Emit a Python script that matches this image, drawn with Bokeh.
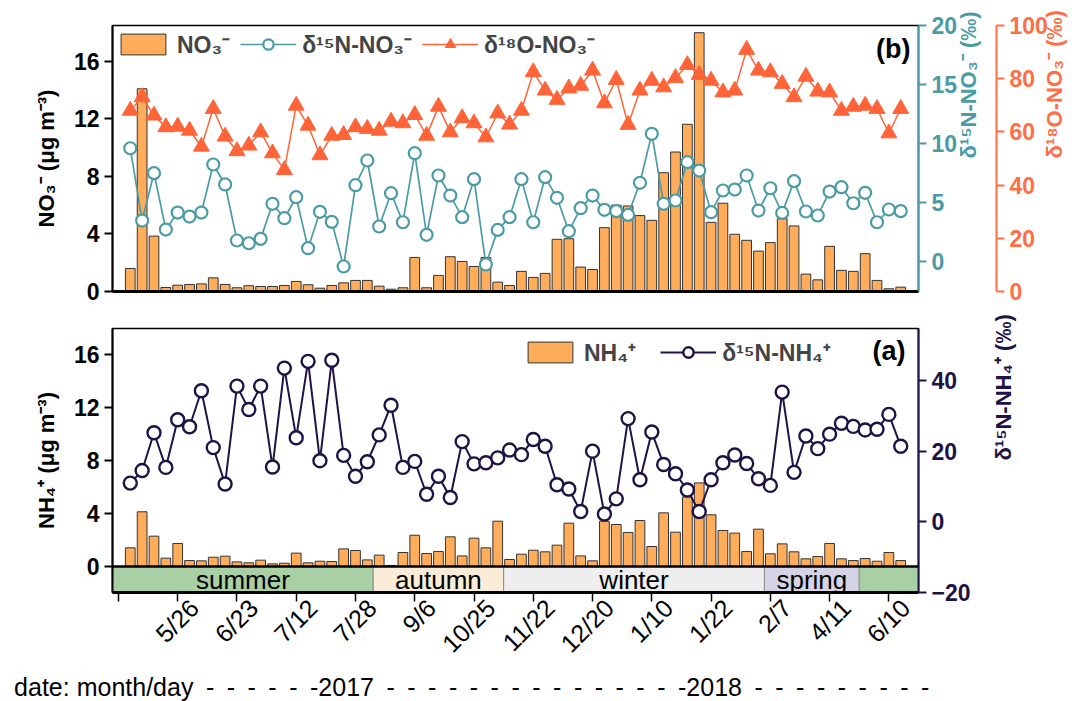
import math
from bokeh.plotting import figure
from bokeh.models import (Range1d, LinearAxis, FixedTicker, Legend, LegendItem, Label, Span)
from bokeh.layouts import column
from bokeh.embed import file_html
from bokeh.resources import INLINE
from bokeh.core.properties import value

# ---------------- data ----------------
no3 = [1.6, 14.1, 3.85, 0.28, 0.44, 0.49, 0.53, 0.95, 0.49, 0.26,
       0.40, 0.35, 0.35, 0.42, 0.70, 0.47, 0.23, 0.42, 0.60, 0.77,
       0.77, 0.37, 0.16, 0.26, 2.37, 0.26, 1.12, 2.42, 2.09, 1.74,
       2.37, 0.65, 0.42, 1.40, 0.98, 1.26, 3.63, 3.67, 1.70, 1.53,
       4.44, 6.0, 5.95, 5.28, 4.95, 8.26, 9.70, 11.63, 18.0, 4.81,
       6.14, 3.98, 3.56, 2.81, 3.40, 5.07, 4.56, 1.21, 0.81, 3.14,
       1.47, 1.40, 2.63, 0.77, 0.19, 0.30]
d15n_no3 = [9.6, 3.47, 7.49, 2.71, 4.15, 3.81, 4.15, 8.22, 6.53, 1.78,
            1.55, 1.92, 4.89, 3.67, 5.45, 1.13, 4.21, 3.36, -0.42, 6.47,
            8.56, 2.97, 5.79, 3.33, 9.18, 2.26, 7.29, 5.59, 3.76, 6.98,
            -0.25, 2.68, 3.76, 6.98, 3.33, 7.15, 5.40, 2.57, 4.52, 5.59,
            4.38, 4.27, 3.95, 6.67, 10.82, 4.89, 5.17, 8.42, 7.71, 4.18,
            6.02, 6.10, 7.29, 4.32, 6.21, 4.12, 6.81, 4.24, 3.90, 5.93,
            6.30, 4.94, 5.82, 3.33, 4.41, 4.27]
d18o_no3 = [68.0, 73.1, 66.2, 61.8, 62.0, 60.5, 54.5, 68.7, 58.3, 52.8,
            54.9, 59.9, 52.0, 45.7, 69.9, 62.4, 51.3, 58.6, 58.9, 61.8,
            61.2, 60.5, 63.9, 63.3, 66.4, 58.6, 69.5, 59.9, 65.2, 63.3,
            58.0, 67.0, 62.8, 68.0, 82.5, 75.6, 72.1, 76.4, 77.4, 83.1,
            70.8, 79.6, 62.7, 75.6, 79.3, 76.8, 80.3, 85.2, 81.5, 79.3,
            74.9, 75.6, 90.9, 83.1, 82.5, 78.1, 73.1, 80.8, 75.2, 74.9,
            68.0, 69.5, 69.9, 68.7, 59.5, 68.7]
nh4 = [1.41, 4.13, 2.29, 0.63, 1.74, 0.45, 0.43, 0.70, 0.78, 0.35,
       0.28, 0.48, 0.20, 0.25, 1.01, 0.28, 0.40, 0.38, 1.33, 1.21,
       0.50, 0.86, 0.08, 1.06, 2.36, 0.98, 1.13, 2.24, 0.80, 2.14,
       1.41, 3.42, 0.53, 0.93, 1.23, 1.11, 1.61, 3.27, 0.80, 0.43,
       3.42, 3.17, 2.57, 3.47, 1.51, 4.05, 2.59, 5.26, 6.31, 3.90,
       2.72, 2.52, 1.13, 2.82, 0.96, 1.71, 1.11, 0.58, 0.75, 1.74,
       0.58, 0.45, 0.60, 0.40, 1.06, 0.45]
d15n_nh4 = [10.95, 14.5, 25.2, 15.4, 28.9, 26.9, 37.1, 21.0, 10.7, 38.4,
            31.8, 38.4, 15.5, 43.5, 23.8, 45.4, 17.3, 45.7, 18.8, 12.9,
            17.0, 24.6, 33.0, 15.4, 17.1, 7.8, 12.9, 6.9, 22.7, 16.4,
            16.7, 18.1, 20.3, 19.0, 23.3, 21.4, 10.5, 9.3, 2.9, 20.0,
            2.2, 6.5, 29.2, 11.9, 25.4, 16.2, 13.6, 9.0, 2.9, 11.9,
            16.7, 18.9, 16.5, 12.2, 10.3, 36.7, 14.0, 24.3, 20.7, 24.8,
            27.9, 27.0, 26.0, 26.2, 30.4, 21.4]
tick_labels = ["5/26", "6/23", "7/12", "7/28", "9/6", "10/25", "11/22",
               "12/20", "1/10", "1/22", "2/7", "4/11", "6/10"]
season_names = ["summer", "autumn", "winter", "spring", ""]
season_first = [0, 21, 32, 54, 62]
season_last = [20, 31, 53, 61, 65]
season_colors = ["#A9CFA4", "#FBECD7", "#EEEEEE", "#D4D4E6", "#A9CFA4"]
year_labels = ["2017", "2018"]

# ---------------- styles ----------------
FONT = "Liberation Sans"
BAR = "#FFAD5A"
TEAL = "#4B9BA5"
ORANGE = "#FF6438"
ORANGE_AX = "#FF6E45"
NAVY = "#1E1246"

n = len(no3)
idx = list(range(n))
XR = (-1.5, n + 0.5)
step = 5
ticks = list(range(-1, n, step))
label_ticks = ticks[1:]
lab_off = 1.4


def style_axis(ax, color, size="23px"):
    ax.axis_line_color = color
    ax.major_tick_line_color = color
    ax.major_label_text_color = color
    ax.axis_label_text_color = color
    ax.major_label_text_font = FONT
    ax.axis_label_text_font = FONT
    ax.major_label_text_font_style = "bold"
    ax.axis_label_text_font_style = "bold"
    ax.major_label_text_font_size = size
    ax.axis_label_text_font_size = "22px"
    ax.minor_tick_line_color = None
    ax.axis_line_width = 2
    ax.major_tick_line_width = 2
    ax.major_tick_in = 0
    ax.major_tick_out = 8


def base_fig(yr, top_border, bottom_border, fh, xloc="below"):
    p = figure(frame_width=806, frame_height=fh,
               x_range=Range1d(*XR), y_range=yr, x_axis_location=xloc,
               output_backend="svg", toolbar_location=None,
               min_border_left=112, min_border_right=153,
               min_border_top=top_border, min_border_bottom=bottom_border)
    p.xgrid.visible = False
    p.ygrid.visible = False
    p.outline_line_color = "black"
    p.outline_line_width = 1.5
    p.background_fill_color = "white"
    p.border_fill_color = "white"
    return p


def style_legend(lg):
    lg.label_text_font = FONT
    lg.label_text_font_style = "bold"
    lg.label_text_font_size = "23px"
    lg.glyph_width = 56
    lg.glyph_height = 26
    lg.label_standoff = 6
    lg.spacing = 10
    lg.padding = 3
    lg.margin = 3
    lg.border_line_color = None
    lg.background_fill_alpha = 0


# ================= top panel (b) =================
p1 = base_fig(Range1d(0, 18.5), 25, 19, 266)
p1.extra_y_ranges = {"d15n": Range1d(-2.54, 20), "d18o": Range1d(0, 100)}

bars1 = p1.vbar(x=idx, top=no3, width=0.82, fill_color=BAR,
                line_color="#333333", line_width=1)
tl = p1.line(idx, d15n_no3, y_range_name="d15n", line_color=TEAL, line_width=1.7)
ts = p1.scatter(idx, d15n_no3, y_range_name="d15n", marker="circle", size=12,
                fill_color="white", line_color=TEAL, line_width=2.2)
ol = p1.line(idx, d18o_no3, y_range_name="d18o", line_color=ORANGE, line_width=1.5)
os_ = p1.scatter(idx, d18o_no3, y_range_name="d18o", marker="triangle", size=16,
                 fill_color=ORANGE, line_color=ORANGE, line_width=1)

ax = p1.yaxis[0]
style_axis(ax, "black")
ax.ticker = FixedTicker(ticks=[0, 4, 8, 12, 16])
ax.axis_label = "NO\u2083\u207b (\u03bcg m\u207b\u00b3)"
ax.axis_label_standoff = 12

xa = p1.xaxis[0]
xa.ticker = FixedTicker(ticks=[])
xa.axis_line_width = 3
xa.major_tick_out = 0
xa.minor_tick_out = 0

ax_t = LinearAxis(y_range_name="d15n", ticker=FixedTicker(ticks=[0, 5, 10, 15, 20]),
                  axis_label="\u03b4\u00b9\u2075N-NO\u2083\u207b (\u2030)")
style_axis(ax_t, TEAL)
ax_t.axis_label_orientation = math.pi / 2
ax_t.axis_label_standoff = 8
p1.add_layout(ax_t, "right")

ax_o = LinearAxis(y_range_name="d18o", ticker=FixedTicker(ticks=[0, 20, 40, 60, 80, 100]),
                  axis_label="\u03b4\u00b9\u2078O-NO\u2083\u207b (\u2030)")
style_axis(ax_o, ORANGE_AX)
ax_o.axis_label_orientation = math.pi / 2
ax_o.axis_label_standoff = 4
p1.add_layout(ax_o, "right")

leg1 = Legend(items=[LegendItem(label="NO\u2083\u207b", renderers=[bars1]),
                     LegendItem(label="\u03b4\u00b9\u2075N-NO\u2083\u207b", renderers=[tl, ts]),
                     LegendItem(label="\u03b4\u00b9\u2078O-NO\u2083\u207b", renderers=[ol, os_])],
              location="top_left", orientation="horizontal")
style_legend(leg1)
p1.add_layout(leg1)

p1.add_layout(Label(x=798, y=243, x_units="screen", y_units="screen", text="(b)",
                    text_align="right", text_baseline="middle", text_font=FONT,
                    text_font_style="bold", text_font_size="27px", text_color="black"))

# ================= bottom panel (a) =================
p2 = base_fig(Range1d(-1.96, 17.96), 18, 109, 264, xloc=None)
p2.extra_y_ranges = {"d15nh": Range1d(-20, 54.7)}
p2.extra_x_ranges = {"lab": Range1d(XR[0] - lab_off, XR[1] - lab_off)}

lefts = [XR[0] if i == 0 else f - 0.5 for i, f in enumerate(season_first)]
rights = [XR[1] if i == len(season_last) - 1 else l + 0.5 for i, l in enumerate(season_last)]
band_bottom = p2.y_range.start
p2.quad(left=lefts, right=rights, bottom=band_bottom, top=0, fill_color=season_colors,
        line_color="#8C8C8C", line_width=1)
p2.text(x=[(a + b) / 2 for a, b in zip(lefts[:4], rights[:4])], y=band_bottom / 2,
        text=season_names[:4],
        text_align="center", text_baseline="middle", text_font=value(FONT),
        text_font_size="26px", text_color="black")
p2.add_layout(Span(location=0, dimension="width", line_color="black", line_width=2.5))

bars2 = p2.vbar(x=idx, top=nh4, width=0.82, fill_color=BAR,
                line_color="#333333", line_width=1)
nl = p2.line(idx, d15n_nh4, y_range_name="d15nh", line_color=NAVY, line_width=2)
ns = p2.scatter(idx, d15n_nh4, y_range_name="d15nh", marker="circle", size=13,
                fill_color="white", line_color=NAVY, line_width=2.4)

ay = p2.yaxis[0]
style_axis(ay, "black")
ay.ticker = FixedTicker(ticks=[0, 4, 8, 12, 16])
ay.axis_label = "NH\u2084\u207a (\u03bcg m\u207b\u00b3)"
ay.axis_label_standoff = 12

ax_n = LinearAxis(y_range_name="d15nh", ticker=FixedTicker(ticks=[-20, 0, 20, 40]),
                  axis_label="\u03b4\u00b9\u2075N-NH\u2084\u207a (\u2030)")
style_axis(ax_n, NAVY)
ax_n.axis_label_orientation = math.pi / 2
ax_n.axis_label_standoff = 30
p2.add_layout(ax_n, "right")

# footer text (date / year line), carried as the bottom axis title
dash = "\u2002-"
footer = ("date: month/day" + dash * 6 + year_labels[0] + dash * 15 + year_labels[1]
          + dash * 9 + "\u2002" * 7)

# bottom axis: tick marks (minor) at sample positions, date labels (major) shifted
ax_lab = LinearAxis(x_range_name="lab",
                    ticker=FixedTicker(ticks=label_ticks,
                                       minor_ticks=[t - lab_off for t in ticks]),
                    major_label_overrides={t: s for t, s in zip(label_ticks, tick_labels)},
                    axis_label=footer)
ax_lab.major_label_orientation = math.pi / 4
ax_lab.axis_line_color = "black"
ax_lab.axis_line_width = 3
ax_lab.major_tick_line_color = None
ax_lab.major_tick_out = 9
ax_lab.major_tick_in = 0
ax_lab.minor_tick_line_color = "black"
ax_lab.minor_tick_line_width = 1.5
ax_lab.minor_tick_out = 9
ax_lab.minor_tick_in = 0
ax_lab.major_label_text_font = FONT
ax_lab.major_label_text_font_size = "25px"
ax_lab.major_label_text_color = "black"
ax_lab.major_label_standoff = 2
ax_lab.axis_label_text_font = FONT
ax_lab.axis_label_text_font_size = "25px"
ax_lab.axis_label_text_font_style = "normal"
ax_lab.axis_label_text_color = "black"
ax_lab.axis_label_standoff = 2
p2.add_layout(ax_lab, "below")

leg2 = Legend(items=[LegendItem(label="NH\u2084\u207a", renderers=[bars2]),
                     LegendItem(label="\u03b4\u00b9\u2075N-NH\u2084\u207a", renderers=[nl, ns])],
              location=(410, 224), orientation="horizontal")
style_legend(leg2)
leg2.spacing = 24
p2.add_layout(leg2)

p2.add_layout(Label(x=793, y=242, x_units="screen", y_units="screen", text="(a)",
                    text_align="right", text_baseline="middle", text_font=FONT,
                    text_font_style="bold", text_font_size="27px", text_color="black"))

layout = column(p1, p2)
open("out.html", "w").write(file_html(layout, INLINE))
